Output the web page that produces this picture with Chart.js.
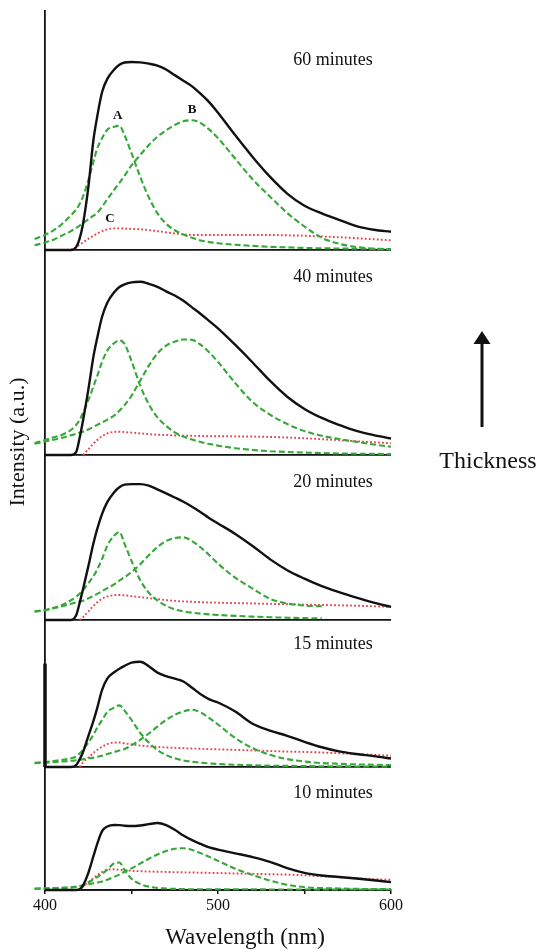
<!DOCTYPE html>
<html>
<head>
<meta charset="utf-8">
<title>Emission spectra vs. deposition time</title>
<script src="https://cdn.jsdelivr.net/npm/chart.js@4.4.1/dist/chart.umd.min.js"></script>
<style>
  html, body { margin: 0; padding: 0; background: #fff; }
  canvas { display: block; }
</style>
</head>
<body>
<canvas id="spectra" width="539" height="951"></canvas>
<script>
// ---- data (intensity in a.u., 60 min maximum = 100) ----
const wavelengths = [394, 400, 405, 410, 415, 418, 420, 422, 425, 428, 430, 433, 436, 440, 443, 446, 450, 455, 460, 465,
                     470, 475, 480, 485, 490, 495, 500, 510, 520, 530, 540, 550, 560, 570, 580, 590, 600];

const panelTitles = ['60 minutes', '40 minutes', '20 minutes', '15 minutes', '10 minutes'];
const panelIds = ['y60', 'y40', 'y20', 'y15', 'y10'];

// measured spectra (black)
const total60 = [null, 0, 0, 0, 0, 1.5, 6, 14, 33, 58.5, 70, 84, 91, 96, 98.5, 99.7, 100, 99.8, 99.1, 98,
                 96, 93, 90, 87, 83, 78.5, 73, 61, 49.5, 39, 30, 23.5, 19.5, 16, 12.7, 10.8, 9.7];
const total40 = [null, 0, 0, 0, 0, 1.5, 9, 18.5, 34.5, 52.3, 61.5, 73.5, 81, 86.5, 89.3, 90.7, 91.8, 92.1, 91, 89.4,
                 87, 84.8, 82, 78.5, 75, 71.2, 67.3, 58.5, 49.2, 39.5, 31, 24.5, 19.7, 16, 12.8, 10.6, 8.8];
const total20 = [null, 0, 0, 0, 0, 2.5, 9, 16.5, 28.4, 40.8, 47.8, 56.5, 62.7, 68, 70.6, 72, 72.3, 72.3, 71.5, 69.5,
                 67.4, 65.2, 62.9, 60.3, 57.4, 54.2, 51.4, 45.8, 39.4, 32.4, 26.5, 22, 18, 14.8, 11.9, 9.2, 7];
const total15 = [null, 0, 0, 0, 0, 1, 4, 8, 16.3, 24.5, 30.8, 41, 47, 50.4, 52.3, 53.8, 55.5, 56, 53.6, 50.2,
                 48.3, 47, 45.5, 42.2, 38.7, 36, 34.3, 29.5, 23, 19.4, 16.6, 13.4, 10.5, 8.3, 6.9, 5.8, 4.5];
const total10 = [null, 0, 0, 0, 0, 0, 0.3, 2.5, 9, 18, 24, 31.3, 33.8, 34.6, 34.5, 34.2, 34, 34.3, 35, 35.6,
                 34.5, 32, 29, 26.5, 24.5, 22.7, 21.5, 19.5, 17.5, 15, 11.6, 9.1, 7.7, 6.9, 6.1, 5.2, 4.2];

// fitted component A (green)
const peakA60 = [5.8, 8, 10.5, 14, 18.5, 21.5, 24.5, 28.5, 37, 47, 53.5, 59.5, 64, 65.5, 66, 61, 51.5, 39, 28, 19.5,
                 14, 10.5, 8.2, 6.5, 5.1, 4.2, 3.6, 2.8, 2.2, 1.7, 1.4, 1.1, 0.9, 0.8, 0.7, 0.6, 0.5];
const peakA40 = [6.3, 8, 9.4, 10.8, 13.3, 16, 18.6, 22.5, 29, 36.5, 41.5, 49.5, 55.5, 59.5, 61, 59, 50, 37, 27, 20,
                 15.5, 12, 9.8, 8.2, 6.9, 5.8, 5, 3.6, 2.7, 2, 1.6, 1.3, 1, 0.8, 0.7, 0.6, 0.5];
const peakA20 = [4.5, 5.2, 6.5, 8, 10.5, 12.4, 14, 15.8, 19.5, 23.3, 26.5, 32.5, 39.5, 45, 46.8, 40.5, 31.5, 21.3, 14.5, 10.4,
                 7.6, 5.7, 4.6, 3.9, 3.4, 3, 2.7, 2.2, 1.8, 1.5, 1.2, 1, 0.9, null, null, null, null];
const peakA15 = [2.3, 2.7, 3.2, 3.8, 4.6, 5.6, 7.2, 9.2, 12.9, 17.3, 20.6, 25, 29.2, 31.6, 32.8, 30, 25, 18.2, 13, 9,
                 6.4, 4.6, 3.5, 2.8, 2.3, 1.9, 1.6, 1.2, 0.9, 0.7, 0.6, 0.5, 0.4, 0.4, 0.3, 0.3, 0.3];
const peakA10 = [0.8, 0.9, 1, 1.1, 1.3, 1.6, 2, 2.7, 4, 5.6, 6.8, 8.6, 10.8, 14.2, 14.6, 10.6, 6, 3.2, 1.8, 1.1,
                 0.8, 0.6, 0.5, 0.4, 0.4, 0.4, 0.4, 0.4, 0.4, 0.3, 0.3, 0.3, 0.3, 0.3, 0.3, 0.3, 0.3];

// fitted component B (green)
const peakB60 = [2.5, 4, 5.5, 7.8, 10, 11.8, 13, 14.3, 16.3, 18.3, 19.6, 23, 27, 32, 35.7, 39.5, 45, 50.5, 55.8, 60.3,
                 63.6, 66.5, 68.5, 69, 67.5, 64, 59.5, 48.5, 37.6, 28.5, 19.7, 12.5, 6.5, 3.3, 1.6, 0.7, 0.3];
const peakB40 = [6, 7.2, 8.1, 9.2, 10.5, 11.3, 11.9, 12.4, 13.6, 14.9, 15.9, 17.3, 18.8, 21, 23.5, 26.5, 31.5, 39.5, 47.5, 54,
                 58.2, 60.3, 61.4, 61.2, 58.6, 54.5, 49.5, 38.2, 28.2, 21.5, 16.5, 12.7, 10.2, 8.5, 7, 5.6, 4.4];
const peakB20 = [4.6, 5.3, 6.2, 7.3, 8.6, 9.4, 9.9, 10.3, 11.5, 12.8, 13.8, 15.3, 17, 19, 21, 22.8, 25.5, 29.6, 34.4, 38.8,
                 42, 43.6, 44, 42, 38.6, 34.5, 30, 22.5, 16.7, 11.3, 8.8, 7.7, 7.3, null, null, null, null];
const peakB15 = [2, 2.3, 2.6, 2.9, 3.3, 3.6, 3.8, 4.1, 4.6, 5, 5.4, 6, 6.9, 8, 8.8, 9.6, 11.5, 14.4, 17.8, 21.5,
                 25, 27.8, 29.6, 30.5, 29, 26, 22.6, 15.4, 10, 6.5, 4.2, 2.9, 2.1, 1.7, 1.4, 1.2, 1];
const peakB10 = [0.6, 0.8, 1, 1.2, 1.5, 1.8, 2, 2.4, 3, 3.6, 3.9, 4.5, 5.5, 7, 8.2, 9.7, 11.5, 14, 16.6, 18.9,
                 20.7, 21.9, 22.2, 21.3, 19.6, 17.6, 15.5, 11.3, 8, 5, 2.8, 1.5, 1, 0.8, 0.6, 0.5, 0.5];

// fitted component C (red)
const peakC60 = [null, null, null, null, 0, 1.5, 2.8, 4, 5.9, 7.6, 8.6, 10, 11, 11.5, 11.5, 11.4, 11.2, 11, 10.6, 10,
                 9.4, 8.8, 8.3, 8, 8, 8, 8, 8, 8, 8, 7.8, 7.6, 7.2, 6.8, 6.3, 5.7, 5.2];
const peakC40 = [null, null, null, null, null, null, null, 0, 3, 6, 7.8, 10, 11.5, 12.3, 12.4, 12.2, 11.9, 11.5, 11.1, 10.8,
                 10.6, 10.4, 10.3, 10.2, 10.1, 10, 10, 9.9, 9.8, 9.6, 9.3, 8.9, 8.4, 7.9, 7.3, 6.8, 6.2];
const peakC20 = [null, null, null, null, null, null, 0, 1.5, 4.5, 7.5, 9.3, 11.3, 12.5, 13.2, 13.3, 13.1, 12.7, 12.2, 11.6, 11.1,
                 10.6, 10.2, 9.9, 9.7, 9.5, 9.3, 9.2, 9, 8.8, 8.6, 8.4, 8.2, 8, 7.8, 7.6, 7.3, 7];
const peakC15 = [null, null, null, null, null, null, 0, 2.5, 5, 7.5, 9, 10.8, 12.2, 13, 13, 12.6, 12, 11.4, 11, 10.7,
                 10.4, 10.2, 10, 9.8, 9.7, 9.5, 9.4, 9.1, 8.8, 8.5, 8.2, 8, 7.7, 7.3, 6.9, 6.5, 6];
const peakC10 = [null, null, null, null, null, null, 0, 1.8, 4, 6.3, 7.7, 9.5, 10.8, 11, 10.8, 10.5, 10.2, 10, 9.8, 9.7,
                 9.6, 9.5, 9.4, 9.3, 9.2, 9.1, 9, 8.8, 8.6, 8.4, 8.2, 7.8, 7.3, 6.8, 6.3, 5.8, 5.4];

// vertical spike at the start of the 15 minute spectrum
const spikeWavelengths = [400, 400];
const spike15 = [55, 0];

const totals = [total60, total40, total20, total15, total10];
const peaksA = [peakA60, peakA40, peakA20, peakA15, peakA10];
const peaksB = [peakB60, peakB40, peakB20, peakB15, peakB10];
const peaksC = [peakC60, peakC40, peakC20, peakC15, peakC10];

// ---- layout of the stacked panels ----
const panelMax = [127.1, 109, 87.8, 78.2, 65.4];   // top of each panel, a.u.
const panelHeight = [239, 205, 165, 147, 123];     // stack weights (px)
const titleLevels = [101, 94.7, 73.4, 65.4, 51.6]; // where each "xx minutes" sits, a.u.
const titleWavelength = 566.5;
const peakNames = ['A', 'B', 'C'];
const peakNameX = [442, 485, 437.6];
const peakNameY = [71.5, 74.5, 16.5];

const SERIF = '"Liberation Serif", "Times New Roman", serif';
const INK = '#111111';
const GREEN = '#35a839';
const RED = '#e2434a';

const toPoints = (xs, vals) => xs.map((x, i) => ({ x: x, y: vals[i] }));

const lineBase = {
    pointRadius: 0,
    fill: false,
    clip: false,
    spanGaps: false,
    cubicInterpolationMode: 'monotone'
};

const datasets = [];
panelIds.forEach((id, i) => {
    datasets.push({ ...lineBase, label: panelTitles[i], data: toPoints(wavelengths, totals[i]),
        yAxisID: id, borderColor: INK, borderWidth: 2.4 });
    datasets.push({ ...lineBase, label: 'A', data: toPoints(wavelengths, peaksA[i]),
        yAxisID: id, borderColor: GREEN, borderWidth: 2.1, borderDash: [6, 3] });
    datasets.push({ ...lineBase, label: 'B', data: toPoints(wavelengths, peaksB[i]),
        yAxisID: id, borderColor: GREEN, borderWidth: 2.1, borderDash: [6, 3] });
    datasets.push({ ...lineBase, label: 'C', data: toPoints(wavelengths, peaksC[i]),
        yAxisID: id, borderColor: RED, borderWidth: 1.9, borderDash: [1.8, 2.2] });
});
datasets.unshift({ ...lineBase, label: 'spike', data: toPoints(spikeWavelengths, spike15),
    yAxisID: 'y15', borderColor: INK, borderWidth: 3.5 });

const scales = {
    x: {
        type: 'linear',
        min: 400,
        max: 600,
        afterFit: (scale) => { scale.height = 61; },
        ticks: {
            stepSize: 50,
            autoSkip: false,
            maxRotation: 0,
            padding: 2,
            color: INK,
            font: { family: SERIF, size: 16 },
            callback: (v) => (v % 100 === 0 ? String(v) : '')
        },
        grid: { drawOnChartArea: false, drawTicks: true, tickLength: 4, color: INK, lineWidth: 1.5 },
        border: { display: true, color: INK, width: 1.8 }
    }
};
panelIds.forEach((id, i) => {
    scales[id] = {
        type: 'linear',
        position: 'left',
        stack: 'panels',
        stackWeight: panelHeight[i],
        weight: panelIds.length - i,
        min: 0,
        max: panelMax[i],
        ticks: { display: false },
        grid: {
            drawTicks: false,
            lineWidth: 1.8,
            color: (c) => (c.tick && c.tick.value === 0 ? INK : 'rgba(0,0,0,0)')
        },
        border: { display: true, color: INK, width: 1.8 }
    };
});

// text and the thickness arrow
const annotate = {
    id: 'annotate',
    afterDraw(chart) {
        const { ctx } = chart;
        const sx = chart.scales.x;
        ctx.save();
        ctx.fillStyle = INK;
        ctx.strokeStyle = INK;
        ctx.textAlign = 'center';
        ctx.textBaseline = 'middle';

        ctx.font = `18px ${SERIF}`;
        panelIds.forEach((id, i) => {
            ctx.fillText(panelTitles[i], sx.getPixelForValue(titleWavelength),
                chart.scales[id].getPixelForValue(titleLevels[i]));
        });

        ctx.font = `bold 13px ${SERIF}`;
        peakNames.forEach((t, i) => {
            ctx.fillText(t, sx.getPixelForValue(peakNameX[i]), chart.scales.y60.getPixelForValue(peakNameY[i]));
        });

        ctx.font = `23px ${SERIF}`;
        ctx.fillText('Wavelength (nm)', 245, 938);

        ctx.save();
        ctx.translate(18, 442);
        ctx.rotate(-Math.PI / 2);
        ctx.font = `22px ${SERIF}`;
        ctx.fillText('Intensity (a.u.)', 0, 0);
        ctx.restore();

        // Thickness arrow
        ctx.lineWidth = 3;
        ctx.beginPath();
        ctx.moveTo(482, 427);
        ctx.lineTo(482, 342);
        ctx.stroke();
        ctx.beginPath();
        ctx.moveTo(482, 331);
        ctx.lineTo(473.5, 344);
        ctx.lineTo(490.5, 344);
        ctx.closePath();
        ctx.fill();
        ctx.font = `24px ${SERIF}`;
        ctx.fillText('Thickness', 488, 462);
        ctx.restore();
    }
};

new Chart(document.getElementById('spectra').getContext('2d'), {
    type: 'line',
    data: { datasets: datasets },
    options: {
        responsive: false,
        animation: false,
        devicePixelRatio: 1,
        layout: { padding: { left: 45, right: 148, top: 11, bottom: 0 } },
        plugins: { legend: { display: false }, tooltip: { enabled: false } },
        scales: scales
    },
    plugins: [annotate]
});
</script>
</body>
</html>
